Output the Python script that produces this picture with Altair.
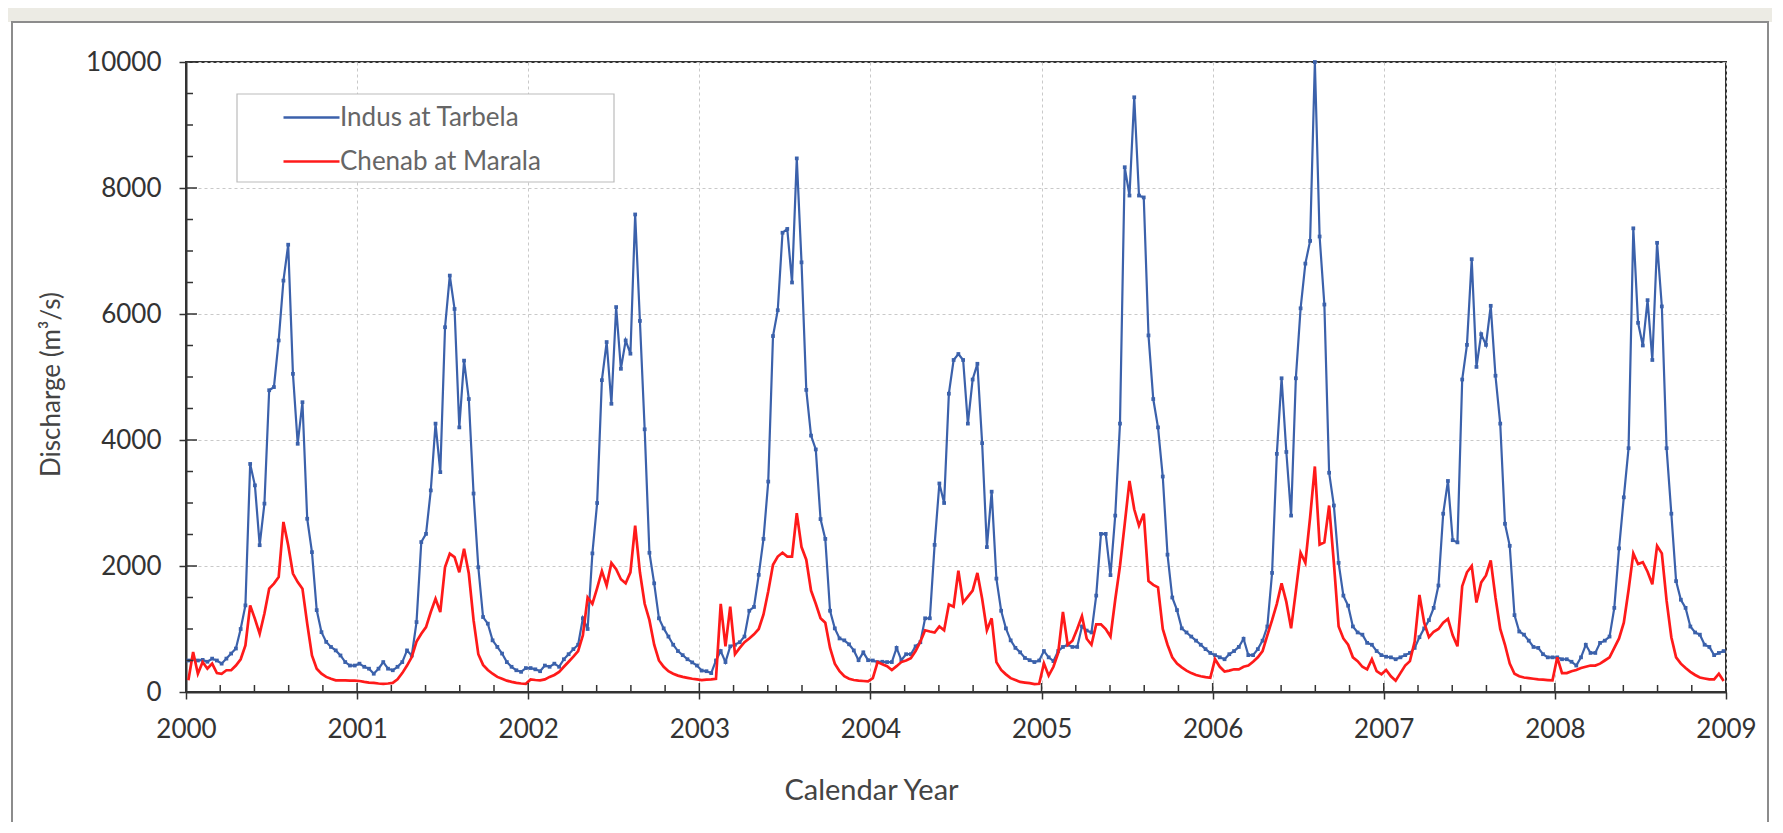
import altair as alt
import pandas as pd

# ---------------- data (dekadal discharge, m3/s; 36 values per year) ----------------
YEARS = [2000, 2001, 2002, 2003, 2004, 2005, 2006, 2007, 2008]
SERIES = ["Indus at Tarbela", "Chenab at Marala"]
COLORS = ["#3b61ab", "#ff1a1a"]

indus_2000 = [500, 520, 500, 510, 480, 530, 500, 450, 530, 610, 690, 1000, 1375, 3620, 3280, 2330, 2990, 4790,
              4840, 5580, 6530, 7100, 5050, 3940, 4600, 2750, 2220, 1300, 950, 795, 715, 660, 580, 475, 420, 420]
indus_2001 = [450, 400, 370, 290, 370, 475, 370, 345, 400, 475, 660, 580, 1110, 2380, 2510, 3200, 4260, 3490,
              5790, 6610, 6080, 4200, 5260, 4650, 3150, 1980, 1190, 1085, 820, 715, 610, 475, 400, 345, 320, 380]
indus_2002 = [380, 360, 330, 420, 400, 450, 400, 520, 600, 680, 750, 1170, 1000, 2200, 3000, 4950, 5555, 4575,
              6110, 5130, 5580, 5370, 7580, 5890, 4170, 2210, 1725, 1170, 1010, 880, 750, 650, 585, 520, 470, 420]
indus_2003 = [340, 330, 300, 500, 650, 475, 725, 750, 790, 880, 1290, 1350, 1860, 2430, 3340, 5650, 6060, 7290,
              7350, 6500, 8470, 6820, 4795, 4070, 3850, 2745, 2430, 1290, 1010, 850, 820, 757, 660, 505, 630, 505]
indus_2004 = [500, 475, 480, 475, 475, 700, 505, 600, 600, 725, 790, 1170, 1170, 2335, 3310, 3000, 4735, 5270,
              5365, 5270, 4260, 4960, 5210, 3950, 2300, 3180, 1800, 1290, 1010, 820, 700, 630, 540, 505, 475, 500]
indus_2005 = [650, 550, 490, 650, 715, 750, 715, 715, 1040, 975, 945, 1530, 2510, 2510, 1855, 2800, 4260, 8330,
              7880, 9440, 7880, 7850, 5660, 4650, 4200, 3420, 2180, 1500, 1300, 1010, 945, 880, 815, 750, 680, 620]
indus_2006 = [585, 550, 520, 600, 650, 715, 845, 585, 585, 680, 815, 1040, 1890, 3780, 4980, 3810, 2800, 4980,
              6090, 6800, 7160, 10000, 7230, 6150, 3480, 2960, 2050, 1530, 1370, 1040, 945, 910, 780, 750, 650, 585]
indus_2007 = [560, 550, 520, 550, 585, 620, 700, 870, 1010, 1140, 1335, 1690, 2830, 3350, 2410, 2375, 4960, 5510,
              6870, 5160, 5680, 5510, 6130, 5020, 4260, 2670, 2320, 1220, 960, 910, 815, 715, 700, 600, 550, 550]
indus_2008 = [550, 520, 520, 480, 420, 550, 750, 620, 620, 780, 815, 880, 1335, 2280, 3090, 3870, 7360, 5860,
              5500, 6220, 5270, 7130, 6120, 3870, 2830, 1760, 1465, 1335, 1040, 945, 910, 750, 715, 585, 620, 650]

chenab_2000 = [185, 635, 290, 475, 370, 450, 300, 290, 345, 345, 420, 520, 740, 1375, 1160, 925, 1245, 1640,
               1720, 1825, 2700, 2330, 1880, 1745, 1640, 1085, 580, 370, 290, 240, 210, 185, 185, 185, 180, 180]
chenab_2001 = [175, 160, 150, 145, 135, 130, 135, 145, 200, 300, 420, 555, 800, 925, 1030, 1270, 1480, 1270,
               1985, 2195, 2140, 1900, 2275, 1880, 1140, 600, 430, 350, 290, 240, 210, 180, 160, 145, 135, 130]
chenab_2002 = [200, 190, 185, 200, 240, 270, 320, 400, 480, 560, 650, 900, 1500, 1400, 1650, 1920, 1690, 2050,
               1950, 1790, 1725, 1900, 2640, 1900, 1400, 1140, 750, 500, 400, 330, 290, 260, 240, 225, 210, 200]
chenab_2003 = [190, 195, 200, 210, 1400, 725, 1355, 600, 700, 790, 850, 915, 1000, 1230, 1600, 2020, 2150, 2210,
               2150, 2150, 2840, 2300, 2100, 1610, 1400, 1170, 1100, 700, 450, 330, 250, 210, 190, 180, 175, 170]
chenab_2004 = [220, 475, 440, 410, 350, 410, 475, 500, 535, 650, 800, 980, 960, 945, 1040, 980, 1390, 1355,
               1925, 1420, 1515, 1610, 1890, 1480, 980, 1170, 475, 350, 280, 220, 190, 160, 150, 140, 125, 130]
chenab_2005 = [455, 260, 400, 620, 1270, 750, 815, 1000, 1205, 845, 750, 1075, 1075, 1000, 880, 1465, 2000, 2670,
               3350, 2900, 2640, 2830, 1760, 1700, 1660, 1000, 750, 550, 450, 390, 340, 300, 270, 250, 235, 225]
chenab_2006 = [520, 400, 325, 340, 360, 360, 400, 420, 480, 550, 650, 900, 1140, 1400, 1725, 1430, 1010, 1600,
               2210, 2050, 2770, 3580, 2340, 2375, 2960, 2050, 1040, 850, 750, 550, 490, 400, 360, 520, 330, 280]
chenab_2007 = [350, 250, 180, 300, 420, 490, 800, 1540, 1100, 870, 957, 1000, 1100, 1160, 900, 725, 1680, 1900,
               2000, 1420, 1740, 1850, 2090, 1500, 1000, 750, 450, 290, 250, 230, 220, 210, 200, 195, 190, 185]
chenab_2008 = [550, 300, 300, 330, 350, 380, 400, 420, 420, 450, 500, 550, 700, 850, 1100, 1620, 2200, 2030,
               2060, 1910, 1710, 2320, 2200, 1450, 870, 550, 450, 380, 320, 270, 230, 215, 200, 200, 290, 175]

INDUS = [indus_2000, indus_2001, indus_2002, indus_2003, indus_2004,
         indus_2005, indus_2006, indus_2007, indus_2008]
CHENAB = [chenab_2000, chenab_2001, chenab_2002, chenab_2003, chenab_2004,
          chenab_2005, chenab_2006, chenab_2007, chenab_2008]

X_TICKS = list(range(2000, 2010))
Y_TICKS = [0, 2000, 4000, 6000, 8000, 10000]

# ---------------- build tables ----------------
rows = []
for year, ind, che in zip(YEARS, INDUS, CHENAB):
    n = len(ind)
    for i in range(n):
        t = year + (i + 0.5) / n
        rows.append({"t": t, "q": ind[i], "series": SERIES[0]})
        rows.append({"t": t, "q": che[i], "series": SERIES[1]})
df = pd.DataFrame(rows)
indus_df = df[df.series == SERIES[0]]
chenab_df = df[df.series == SERIES[1]]

x_minor = [y + k / 5 for y in YEARS for k in range(1, 5)]
y_minor = [v for v in range(500, 10000, 500) if v % 2000]

W, H = 1540, 630
FONT = "Lato"
AX = "#333333"
TITLE_C = "#444444"

xscale = alt.Scale(domain=[2000, 2009], nice=False, zero=False)
yscale = alt.Scale(domain=[0, 10000], nice=False)
cscale = alt.Scale(domain=SERIES, range=COLORS)

x_axis = alt.Axis(values=X_TICKS, format="d", labelFlush=False, labelOverlap=False,
                  tickSize=7, tickColor=AX, tickWidth=1.5, domainColor=AX, domainWidth=2,
                  labelFont=FONT, labelFontSize=26, labelColor=AX, labelPadding=17,
                  title="Calendar Year", titleFont=FONT, titleFontSize=29, titleFontWeight="normal",
                  titleColor=TITLE_C, titleX=685, titleY=98, titleBaseline="middle", titleAlign="center",
                  grid=True, gridColor="#c9c9c9", gridDash=[3, 3], gridWidth=1)
y_axis = alt.Axis(values=Y_TICKS, format="d", labelFlush=False, labelOverlap=False,
                  tickSize=7, tickColor=AX, tickWidth=1.5, domainColor=AX, domainWidth=2,
                  labelFont=FONT, labelFontSize=26, labelColor=AX, labelPadding=18,
                  title="Discharge (m³/s)", titleFont=FONT, titleFontSize=26, titleFontWeight="normal",
                  titleColor=TITLE_C, titleX=-135, titleY=322, titleBaseline="middle", titleAlign="center",
                  titleAngle=270,
                  grid=True, gridColor="#c9c9c9", gridDash=[3, 3], gridWidth=1)

# legend symbol: a 56 px line drawn from a symbol whose nominal size is 28 px
legend = alt.Legend(orient="none", legendX=51, legendY=32, title=None,
                    symbolType="M-2,0H2", symbolSize=784, symbolStrokeWidth=2.6,
                    labelFont=FONT, labelFontSize=26, labelColor="#666666", labelOffset=13,
                    labelLimit=500, padding=8, rowPadding=15, symbolOffset=51)

indus_line = alt.Chart(indus_df).mark_line(strokeWidth=2.2).encode(
    x=alt.X("t:Q", scale=xscale, axis=x_axis),
    y=alt.Y("q:Q", scale=yscale, axis=y_axis),
    color=alt.Color("series:N", scale=cscale, legend=legend),
)
indus_pts = alt.Chart(indus_df).mark_square(size=14, opacity=1, color=COLORS[0]).encode(
    x="t:Q", y="q:Q")
chenab_line = alt.Chart(chenab_df).mark_line(strokeWidth=2.7).encode(
    x="t:Q", y="q:Q",
    color=alt.Color("series:N", scale=cscale, legend=legend),
)

# inward ticks (major and minor)
xt_major = alt.Chart(pd.DataFrame({"t": X_TICKS})).mark_rule(color=AX, strokeWidth=1.5).encode(
    x="t:Q", y=alt.value(H), y2=alt.value(H - 9))
xt_minor = alt.Chart(pd.DataFrame({"t": x_minor})).mark_rule(color=AX, strokeWidth=1.5).encode(
    x="t:Q", y=alt.value(H), y2=alt.value(H - 7))
yt_major = alt.Chart(pd.DataFrame({"q": Y_TICKS})).mark_rule(color=AX, strokeWidth=1.5).encode(
    y="q:Q", x=alt.value(0), x2=alt.value(11))
yt_minor = alt.Chart(pd.DataFrame({"q": y_minor})).mark_rule(color=AX, strokeWidth=1.5).encode(
    y="q:Q", x=alt.value(0), x2=alt.value(7))

# decoration: beige strip above the figure frame, the frame itself, and the legend box
deco = pd.DataFrame({"k": [0]})
strip = alt.Chart(deco).mark_rect(color="#ecebe4").encode(
    x=alt.value(-200), x2=alt.value(1700), y=alt.value(-60), y2=alt.value(-40))
frame = alt.Chart(deco).mark_rect(fillOpacity=0, stroke="#8c8c8c", strokeWidth=2).encode(
    x=alt.value(-174), x2=alt.value(1582), y=alt.value(-40), y2=alt.value(H + 140))
legend_box = alt.Chart(deco).mark_rect(fill="white", stroke="#bbbbbb", strokeWidth=1.2).encode(
    x=alt.value(51), x2=alt.value(428), y=alt.value(32), y2=alt.value(120))

chart = alt.layer(
    strip, frame, indus_line, indus_pts, chenab_line, legend_box,
    xt_major, xt_minor, yt_major, yt_minor
).properties(
    width=W, height=H,
    autosize=alt.AutoSizeParams(type="none"),
    padding={"left": 178, "top": 54, "right": 46, "bottom": 130},
    background="white",
).configure_view(stroke=AX, strokeWidth=2)

chart.save("out.html", embed_options={"renderer": "svg", "actions": False})
